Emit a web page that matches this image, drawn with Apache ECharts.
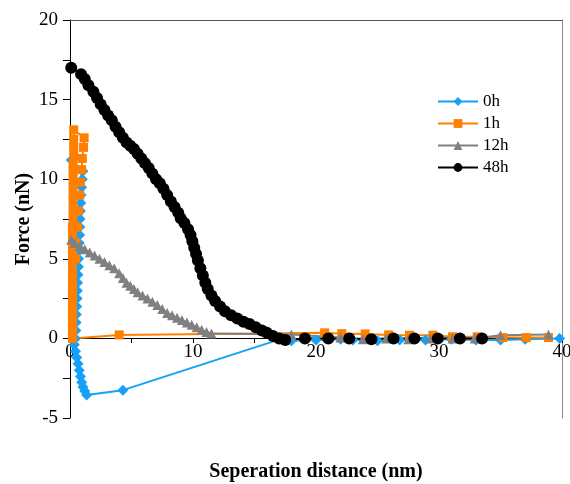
<!DOCTYPE html>
<html>
<head>
<meta charset="utf-8">
<script src="https://cdn.jsdelivr.net/npm/echarts@6/dist/echarts.min.js"></script>
<style>
html, body { margin: 0; padding: 0; background: #fff; }
#chart { width: 570px; height: 484px; }
</style>
</head>
<body>
<div id="chart"></div>
<script>
// series names
var seriesNames = ['0h', '1h', '12h', '48h'];

// 0h: [distance nm, force nN]
var data0h = [
  [0.1, 11.2], [1.05, 10.5], [1.0, 10.0], [0.95, 9.5], [0.9, 9.0], [0.88, 8.5], [0.85, 8.0],
  [0.82, 7.5], [0.8, 7.0], [0.78, 6.5], [0.75, 6.0], [0.72, 5.5], [0.7, 5.0], [0.68, 4.5],
  [0.65, 4.0], [0.62, 3.5], [0.6, 3.0], [0.58, 2.5], [0.55, 2.0], [0.52, 1.5], [0.5, 1.0],
  [0.48, 0.5], [0.45, 0.0], [0.35, -0.4], [0.45, -0.8], [0.55, -1.2], [0.65, -1.6],
  [0.75, -2.0], [0.85, -2.4], [0.95, -2.75], [1.05, -3.05], [1.2, -3.3], [1.35, -3.55],
  [4.3, -3.25], [17.3, 0.0], [18.0, -0.15], [20.0, -0.1], [22.0, -0.05], [23.0, -0.1],
  [25.0, -0.15], [26.8, -0.1], [28.9, -0.1], [31.0, -0.05], [33.0, -0.1], [35.0, -0.1],
  [37.0, -0.05], [39.8, 0.0]
];

// 1h
var data1h = [
  [38.9, 0.05], [37.1, 0.05], [35.2, 0.05], [33.1, 0.1], [31.1, 0.1], [29.5, 0.2],
  [27.6, 0.2], [25.9, 0.22], [24.0, 0.28], [22.1, 0.3], [20.7, 0.35], [4.0, 0.22],
  [0.2, 0.0], [0.2, 0.5], [0.2, 1.0], [0.2, 1.5], [0.2, 2.0], [0.2, 2.5], [0.2, 3.0],
  [0.2, 3.5], [0.2, 4.0], [0.2, 4.5], [0.2, 5.0], [0.2, 5.5], [0.2, 6.0], [0.2, 6.5],
  [0.2, 7.0], [0.25, 7.5], [0.25, 8.0], [0.25, 8.5], [0.25, 9.0], [0.25, 9.5], [0.25, 10.0],
  [0.25, 10.5], [0.25, 11.0], [0.3, 11.5], [0.3, 12.0], [0.3, 12.5], [0.3, 13.1],
  [1.15, 12.6], [1.1, 12.0], [1.0, 11.3], [0.95, 10.6], [0.85, 9.8], [0.8, 9.0],
  [0.7, 8.0], [0.6, 7.0], [0.5, 6.0], [0.45, 5.0]
];

// 12h
var data12h = [
  [0.1, 6.2], [0.4, 6.0], [0.8, 5.8], [1.2, 5.6], [1.6, 5.4], [2.0, 5.2], [2.4, 5.0],
  [2.8, 4.8], [3.2, 4.6], [3.6, 4.4], [4.0, 4.1], [4.3, 3.8], [4.6, 3.5], [4.9, 3.3],
  [5.2, 3.1], [5.5, 2.9], [5.9, 2.7], [6.3, 2.5], [6.7, 2.3], [7.1, 2.1], [7.5, 1.85],
  [7.9, 1.6], [8.3, 1.45], [8.7, 1.3], [9.1, 1.15], [9.5, 1.0], [9.9, 0.85], [10.3, 0.7],
  [10.7, 0.55], [11.1, 0.4], [11.5, 0.3], [18.0, 0.25], [22.0, 0.05], [23.8, -0.05],
  [25.7, 0.0], [27.5, -0.05], [29.3, 0.0], [31.1, 0.0], [32.9, 0.0], [35.0, 0.2], [38.9, 0.25]
];

// 48h
var data48h = [
  [0.1, 17.0], [0.9, 16.6], [1.2, 16.3], [1.5, 15.9], [1.9, 15.5], [2.2, 15.1], [2.5, 14.7],
  [2.8, 14.35], [3.1, 14.0], [3.4, 13.7], [3.7, 13.3], [4.0, 12.95], [4.3, 12.6], [4.6, 12.3],
  [4.9, 12.1], [5.2, 11.9], [5.5, 11.6], [5.8, 11.3], [6.1, 11.0], [6.4, 10.7], [6.7, 10.35],
  [7.0, 10.0], [7.3, 9.75], [7.6, 9.4], [7.9, 9.0], [8.2, 8.6], [8.5, 8.25], [8.8, 7.9],
  [9.0, 7.55], [9.3, 7.25], [9.6, 6.85], [9.8, 6.5], [9.95, 6.1], [10.1, 5.7], [10.25, 5.3],
  [10.4, 4.9], [10.6, 4.4], [10.8, 3.95], [11.0, 3.5], [11.2, 3.1], [11.5, 2.7], [11.8, 2.35],
  [12.2, 2.0], [12.6, 1.7], [13.1, 1.45], [13.6, 1.25], [14.1, 1.05], [14.6, 0.9], [15.1, 0.7],
  [15.6, 0.5], [16.0, 0.35], [16.5, 0.15], [17.0, 0.0], [17.5, -0.1], [19.1, 0.0], [21.0, 0.0],
  [22.7, 0.0], [24.5, -0.05], [26.3, 0.0], [28.0, 0.0], [29.9, 0.0], [31.7, 0.0], [33.5, 0.0]
];

var font = "'Liberation Serif', 'Times New Roman', serif";

var chart = echarts.init(document.getElementById('chart'));

function mkSeries(name, data, color, symbol, size) {
  return {
    name: name,
    type: 'line',
    data: data,
    symbol: symbol,
    symbolSize: size,
    showAllSymbol: true,
    lineStyle: { color: color, width: 2 },
    itemStyle: { color: color },
    xAxisIndex: 0,
    yAxisIndex: 0
  };
}

var option = {
  animation: false,
  backgroundColor: '#fff',
  textStyle: { fontFamily: font, color: '#000' },
  grid: { left: 70, right: 8, top: 20, bottom: 66, containLabel: false, outerBoundsMode: 'none' },
  legend: {
    orient: 'vertical',
    left: 432,
    top: 88,
    itemWidth: 40,
    itemHeight: 11,
    itemGap: 5,
    data: seriesNames,
    textStyle: { fontFamily: font, fontSize: 17, color: '#000' }
  },
  xAxis: [{
    type: 'value',
    position: 'bottom',
    offset: -80, // Excel puts the category axis across y = 0
    min: 0,
    max: 40,
    interval: 10,
    name: 'Seperation distance (nm)',
    nameLocation: 'middle',
    nameGap: 124,
    nameTextStyle: { fontFamily: font, fontSize: 20, fontWeight: 'bold', color: '#000' },
    axisLine: { onZero: false, lineStyle: { color: '#000', width: 1 } },
    axisTick: { show: true, length: 5, lineStyle: { color: '#000' } },
    minorTick: { show: true, splitNumber: 2, length: 5, lineStyle: { color: '#000' } },
    axisLabel: { fontFamily: font, fontSize: 19, color: '#000', margin: 5 },
    splitLine: { show: false }
  }, {
    type: 'value',
    position: 'top',
    min: 0,
    max: 40,
    axisLine: { show: true, onZero: false, lineStyle: { color: '#555' } },
    axisTick: { show: false },
    axisLabel: { show: false },
    splitLine: { show: false }
  }],
  yAxis: [{
    type: 'value',
    min: -5,
    max: 20,
    interval: 5,
    name: 'Force (nN)',
    nameLocation: 'middle',
    nameGap: 36,
    nameMoveOverlap: false,
    nameRotate: 90,
    nameTextStyle: { fontFamily: font, fontSize: 20, fontWeight: 'bold', color: '#000' },
    axisLine: { show: true, onZero: false, lineStyle: { color: '#000', width: 1 } },
    axisTick: { show: true, length: 7, lineStyle: { color: '#000' } },
    minorTick: { show: true, splitNumber: 2, length: 7, lineStyle: { color: '#000' } },
    axisLabel: { fontFamily: font, fontSize: 19, color: '#000', margin: 12 },
    splitLine: { show: false }
  }, {
    type: 'value',
    position: 'right',
    min: -5,
    max: 20,
    axisLine: { show: true, onZero: false, lineStyle: { color: '#888' } },
    axisTick: { show: false },
    axisLabel: { show: false },
    splitLine: { show: false }
  }],
  series: [
    mkSeries(seriesNames[0], data0h, '#16A0F8', 'diamond', 11),
    mkSeries(seriesNames[1], data1h, '#FF8000', 'rect', 9),
    mkSeries(seriesNames[2], data12h, '#808080', 'triangle', 10),
    mkSeries(seriesNames[3], data48h, '#000000', 'circle', 12)
  ]
};

chart.setOption(option);
</script>
</body>
</html>
